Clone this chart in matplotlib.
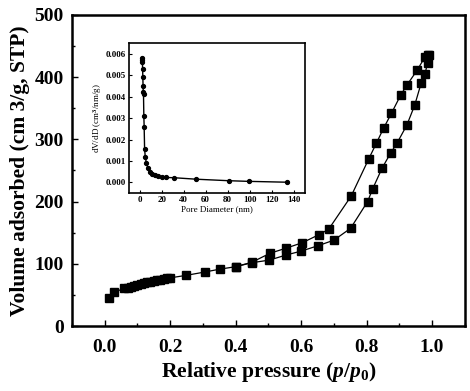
import matplotlib
matplotlib.use("Agg")
import matplotlib.pyplot as plt
from matplotlib.ticker import MultipleLocator

# Main isotherm data
ads_p = [0.013, 0.030, 0.060, 0.070, 0.080, 0.090, 0.100, 0.110, 0.120, 0.130, 0.140,
         0.150, 0.160, 0.170, 0.180, 0.190, 0.200, 0.249, 0.305, 0.353, 0.400, 0.449,
         0.503, 0.553, 0.601, 0.651, 0.700, 0.751, 0.803, 0.819, 0.847, 0.874, 0.893,
         0.923, 0.947, 0.967, 0.978, 0.986, 0.991]
ads_v = [45.5, 54.7, 60.6, 62.0, 63.5, 65.0, 66.5, 68.0, 69.0, 70.5, 71.5,
         72.5, 73.5, 74.5, 75.5, 76.5, 77.5, 81.5, 86.8, 91.6, 95.4, 101.8,
         106.0, 114.0, 120.6, 129.0, 138.0, 157.0, 200.0, 221.0, 253.5, 278.6, 294.0,
         323.0, 355.0, 391.0, 404.7, 422.0, 436.0]

des_p = [0.986, 0.979, 0.955, 0.923, 0.905, 0.876, 0.852, 0.830, 0.806, 0.753,
         0.684, 0.655, 0.604, 0.553, 0.505, 0.449, 0.400]
des_v = [436.0, 433.0, 411.6, 387.0, 372.0, 342.0, 318.0, 294.0, 268.0, 209.0,
         155.5, 147.0, 134.0, 125.0, 117.0, 102.4, 95.5]

# Inset pore size distribution
pore_d = [2.0, 2.2, 2.4, 2.6, 2.8, 3.0, 3.2, 3.4, 3.7, 4.0, 4.4, 5.0, 6.0, 7.5,
          9.0, 11.0, 14.0, 17.0, 20.0, 24.0, 31.0, 51.5, 81.0, 99.0, 134.0]
pore_v = [0.0057, 0.0058, 0.0056, 0.0053, 0.0049, 0.0045, 0.0042, 0.0041, 0.0031,
          0.0026, 0.00155, 0.0012, 0.0009, 0.00066, 0.0005, 0.0004, 0.00033,
          0.00028, 0.00025, 0.00023, 0.00022, 0.00015, 0.00008, 0.00005, 0.00001]

main_xticks = [0.0, 0.2, 0.4, 0.6, 0.8, 1.0]
main_yticks = [0, 100, 200, 300, 400, 500]
inset_xticks = [0, 20, 40, 60, 80, 100, 120, 140]
inset_yticks = [0.000, 0.001, 0.002, 0.003, 0.004, 0.005, 0.006]

plt.rcParams['font.family'] = ['Liberation Serif', 'DejaVu Serif']
plt.rcParams['font.weight'] = 'bold'
plt.rcParams['mathtext.fontset'] = 'custom'
plt.rcParams['mathtext.it'] = 'Liberation Serif:italic:bold'
plt.rcParams['mathtext.rm'] = 'Liberation Serif:bold'

fig = plt.figure(figsize=(4.70, 3.91), dpi=100)
ax = fig.add_axes([0.153, 0.166, 0.836, 0.796])

ax.plot(ads_p, ads_v, color='black', marker='s', markersize=5.5, lw=0.9)
ax.plot(des_p, des_v, color='black', marker='s', markersize=5.5, lw=0.9)

ax.set_xlim(-0.1, 1.1)
ax.set_ylim(0, 500)
ax.set_xticks(main_xticks)
ax.set_yticks(main_yticks)
ax.set_xticklabels([f"{t:.1f}" for t in main_xticks])
ax.set_yticklabels([str(t) for t in main_yticks])
ax.xaxis.set_minor_locator(MultipleLocator(0.1))
ax.yaxis.set_minor_locator(MultipleLocator(50))
ax.tick_params(which='both', direction='in', top=False, right=False, labelsize=14)
ax.tick_params(which='major', length=4, width=1)
ax.tick_params(axis='x', which='major', pad=9)
ax.tick_params(axis='y', which='major', pad=6)
ax.tick_params(which='minor', length=2, width=1)
for s in ax.spines.values():
    s.set_linewidth(1.8)

ax.set_xlabel(r"Relative pressure $(p/p_0)$", fontsize=15.5, fontweight='bold', labelpad=3)
ax.set_ylabel("Volume adsorbed (cm 3/g, STP)", fontsize=15.5, fontweight='bold', labelpad=3)

ins = fig.add_axes([0.274, 0.506, 0.374, 0.384])
ins.plot(pore_d, pore_v, color='black', marker='o', markersize=2.8, lw=1.0)
ins.set_xlim(-10, 150)
ins.set_ylim(-0.0005, 0.0065)
ins.set_xticks(inset_xticks)
ins.set_yticks(inset_yticks)
ins.set_xticklabels([str(t) for t in inset_xticks])
ins.set_yticklabels([f"{t:.3f}" for t in inset_yticks])
ins.tick_params(direction='in', labelsize=6.5, length=2.5, width=0.8, pad=2)
for s in ins.spines.values():
    s.set_linewidth(1.2)
ins.set_xlabel("Pore Diameter (nm)", fontsize=6.5, labelpad=1)
ins.set_ylabel(r"dV/dD (cm$^{3}$/nm/g)", fontsize=6.5, labelpad=1)

fig.savefig("out.png", dpi=100)
